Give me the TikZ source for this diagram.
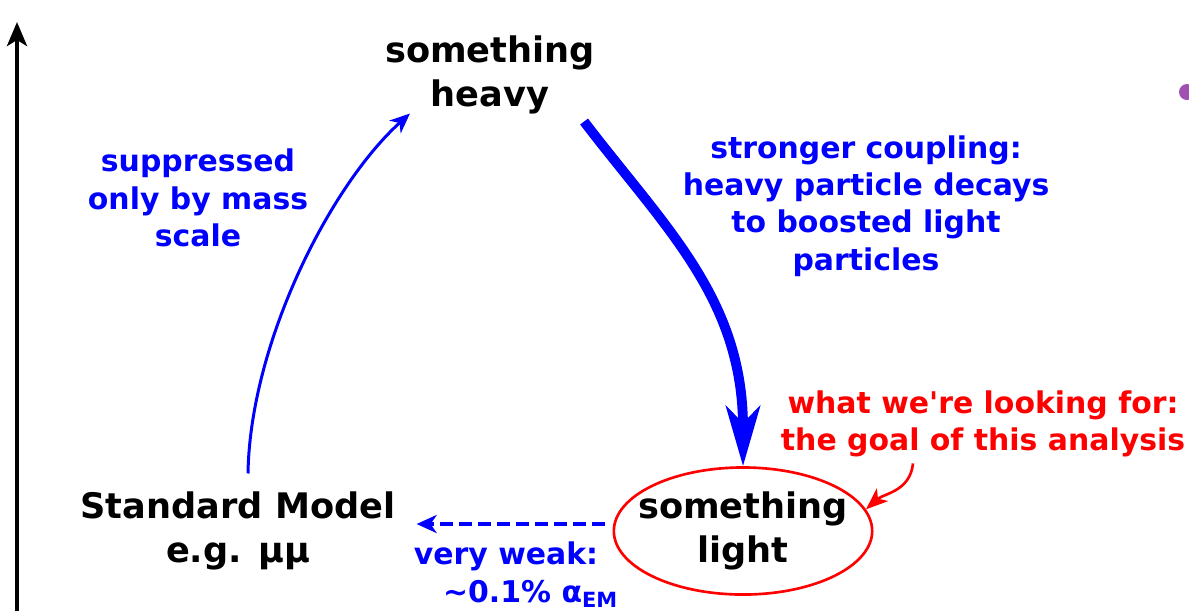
\documentclass[tikz,border=0pt]{standalone}
\usepackage{fontspec}
\setmainfont{DejaVu Sans}
\usetikzlibrary{arrows.meta,shapes.geometric,calc}
\definecolor{dotpurple}{RGB}{160,80,176}

\begin{document}
\begin{tikzpicture}[x=0.01cm,y=-0.01cm,font=\fontsize{10}{12.6}\selectfont\bfseries,
  big/.style={align=center,inner sep=1pt},
  lbl/.style={align=center,inner sep=1pt,font=\fontsize{8.5}{10.6}\selectfont\bfseries},
  thin/.style={blue,line width=0.85pt,-{Stealth[length=0.2cm,width=0.17cm,inset=0.06cm]}},
  thick/.style={blue,line width=2.8pt,-{Stealth[length=0.6cm,width=0.34cm,inset=0.17cm]}},
  weak/.style={blue,line width=1pt,dash pattern=on 3.6pt off 1.8pt,-{Stealth[length=0.2cm,width=0.18cm,inset=0.06cm]}}]
  \useasboundingbox (0,0) rectangle (1189,611);
  % axe
  \draw[line width=1.15pt,-{Stealth[length=0.24cm,width=0.2cm,inset=0.06cm]}] (17,611) -- (17,22);
  \fill[dotpurple] (1187,92) circle (0.08cm);
  % etats
  \node[big] (heavy) at (490,75) {something\\heavy};
  \node[big] (sm) at (238,531) {Standard Model\\e.g. μμ};
  \node[big,draw=red,line width=0.75pt,ellipse,inner xsep=-0.135cm,minimum height=1.27cm] (light) at (743,531) {something\\light};
  % textes
  \node[lbl,blue] (supp) at (198,198) {suppressed\\only by mass\\scale};
  \node[lbl,blue] (strong) at (866,206) {stronger coupling:\\heavy particle decays\\to boosted light\\particles};
  \node[lbl,red] (goal) at (983,424) {what we\textquotesingle re looking for:\\the goal of this analysis};
  \node[lbl,blue] (weak) at (506,575) {very weak:\\\hspace*{0.5cm}\textasciitilde0.1\% α\textsubscript{EM}};
  % fleches
  \draw[thin] ($(sm.north)+(10,-14)$) .. controls +(2,-130) and +(-80,72) .. ($(heavy.south west)+(29,-5)$);
  \draw[thick] ($(heavy.south east)+(-15,3)$) .. controls +(80,105) and +(0,-168) .. (light.north);
  \draw[weak] ($(light.west)+(-8,-7)$) -- ($(sm.east)+(17,-7)$);
  \draw[red,line width=0.75pt,-{Stealth[length=0.22cm,width=0.17cm,inset=0.06cm]}] ($(goal.south)+(-70,2)$) .. controls +(-3,28) and +(18,-16) .. (light.10);
\end{tikzpicture}
\end{document}
